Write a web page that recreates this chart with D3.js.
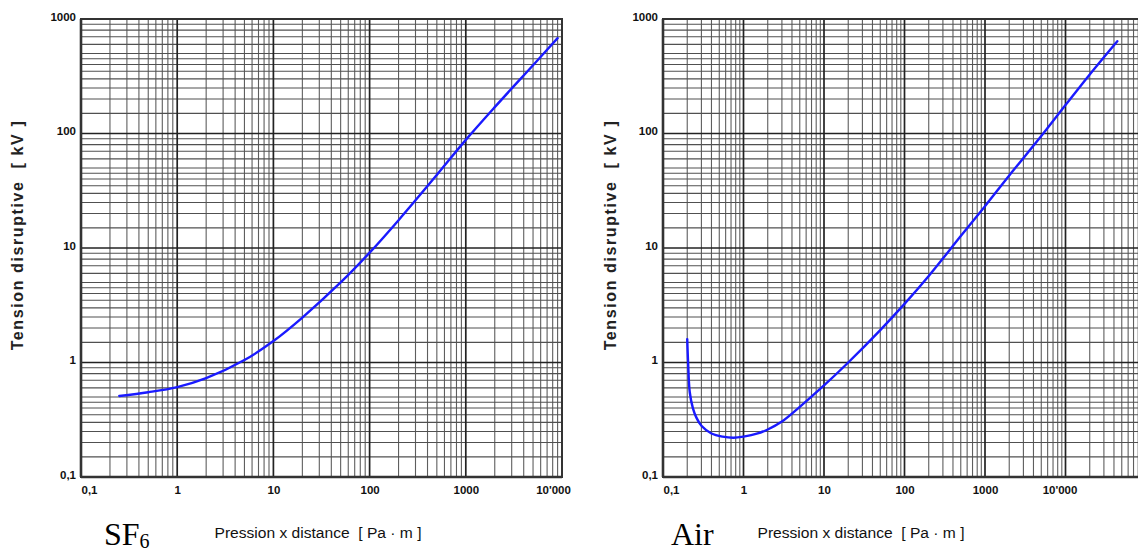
<!DOCTYPE html>
<html>
<head>
<meta charset="utf-8">
<script src="https://cdn.jsdelivr.net/npm/d3@7/dist/d3.min.js"></script>
<style>
  html, body { margin: 0; padding: 0; background: #fff; }
  svg { display: block; }
  text { white-space: pre; }
</style>
</head>
<body>
<svg id="chart" width="1138" height="551"></svg>
<script>
// ---------- data ----------
const xTickValues = [0.1, 1, 10, 100, 1000, 10000];
const xTickLabels = ["0,1", "1", "10", "100", "1000", "10'000"];
const yTickValues = [0.1, 1, 10, 100, 1000];
const yTickLabels = ["0,1", "1", "10", "100", "1000"];
const yMinorFactors = [1.5, 2, 2.5, 3, 3.5, 4, 4.5, 5, 6, 7, 8, 9];
const xMinorFactors = [2, 3, 4, 5, 6, 7, 8, 9];

// SF6 breakdown voltage [kV] vs pressure x distance [Pa·m]
const sf6X = [0.25, 0.5, 1, 2, 5, 10, 20, 50, 100, 200, 500, 1000, 2000, 5000, 9000];
const sf6Y = [0.51, 0.55, 0.61, 0.73, 1.05, 1.54, 2.47, 5.0, 9.1, 17.5, 43.5, 88, 170, 395, 680];

// Air breakdown voltage [kV] vs pressure x distance [Pa·m]
const airX = [0.2, 0.205, 0.215, 0.235, 0.26, 0.3, 0.4, 0.55, 0.75, 1, 1.5, 2, 3, 5, 10, 20, 50, 100, 200, 500, 1000, 2000, 5000, 10000, 20000, 44000];
const airY = [1.6, 1.0, 0.55, 0.4, 0.33, 0.28, 0.24, 0.225, 0.22, 0.225, 0.24, 0.26, 0.305, 0.41, 0.63, 1.0, 1.92, 3.25, 5.7, 12.7, 23.2, 43, 95, 177, 328, 640];

const yTitle = "Tension disruptive  [ kV ]";
const xTitle = "Pression x distance  [ Pa \u00B7 m ]";

// ---------- drawing ----------
const svg = d3.select("#chart");

function drawPanel(cfg) {
  const x = d3.scaleLog().domain(cfg.xDomain).range(cfg.xRange);
  const y = d3.scaleLog().domain([0.1, 1000]).range([477, 19]);
  const g = svg.append("g");

  const [x0, x1] = cfg.xRange;
  const yTop = 19, yBot = 477;

  const xMinor = [], xMajor = [];
  for (let e = Math.log10(cfg.xDomain[0]); e < Math.log10(cfg.xDomain[1]); e++) {
    const base = Math.pow(10, e);
    xMajor.push(base);
    xMinorFactors.forEach(f => xMinor.push(base * f));
  }
  xMajor.push(cfg.xDomain[1]);
  const yMinor = [], yMajor = [];
  for (let e = -1; e < 3; e++) {
    const base = Math.pow(10, e);
    yMajor.push(base);
    yMinorFactors.forEach(f => yMinor.push(base * f));
  }
  yMajor.push(1000);

  g.append("g").selectAll("line").data(xMinor).join("line")
    .attr("x1", d => x(d)).attr("x2", d => x(d))
    .attr("y1", yTop).attr("y2", yBot)
    .attr("stroke", "#5e5e5e").attr("stroke-width", 1.1);
  g.append("g").selectAll("line").data(yMinor).join("line")
    .attr("y1", d => y(d)).attr("y2", d => y(d))
    .attr("x1", x0).attr("x2", x1)
    .attr("stroke", "#505050").attr("stroke-width", 1.1);
  g.append("g").selectAll("line").data(xMajor).join("line")
    .attr("x1", d => x(d)).attr("x2", d => x(d))
    .attr("y1", yTop).attr("y2", yBot)
    .attr("stroke", "#222").attr("stroke-width", 1.7);
  g.append("g").selectAll("line").data(yMajor).join("line")
    .attr("y1", d => y(d)).attr("y2", d => y(d))
    .attr("x1", x0).attr("x2", x1)
    .attr("stroke", "#222").attr("stroke-width", 1.7);

  // frame
  g.append("rect")
    .attr("x", x0).attr("y", yTop)
    .attr("width", x1 - x0).attr("height", yBot - yTop)
    .attr("fill", "none").attr("stroke", "#333").attr("stroke-width", 2);
  g.append("line").attr("x1", x0).attr("x2", x0).attr("y1", yTop).attr("y2", yBot)
    .attr("stroke", "#333").attr("stroke-width", 2.6);
  g.append("line").attr("x1", x0).attr("x2", x1).attr("y1", yBot).attr("y2", yBot)
    .attr("stroke", "#333").attr("stroke-width", 2.6);

  // x axis labels
  const xAxis = d3.axisBottom(x).tickValues(xTickValues).tickSize(0).tickPadding(7)
    .tickFormat((d, i) => xTickLabels[i]);
  const xa = g.append("g").attr("transform", `translate(0,${yBot + 2})`).call(xAxis);
  xa.select(".domain").remove();
  xa.selectAll("text")
    .attr("font-family", "Liberation Sans, Arial, sans-serif")
    .attr("font-size", 11.5).attr("font-weight", "bold").attr("fill", "#111")
    .attr("dx", (d, i) => i === 0 ? 8 : (i === xTickValues.length - 1 ? cfg.lastDx : 0));

  // y axis labels
  const yAxis = d3.axisLeft(y).tickValues(yTickValues).tickSize(0).tickPadding(5)
    .tickFormat((d, i) => yTickLabels[i]);
  const ya = g.append("g").attr("transform", `translate(${x0},0)`).call(yAxis);
  ya.select(".domain").remove();
  ya.selectAll("text")
    .attr("font-family", "Liberation Sans, Arial, sans-serif")
    .attr("font-size", 11.5).attr("font-weight", "bold").attr("fill", "#111")
    .attr("dy", "0.1em");

  // curve
  const pts = cfg.xs.map((v, i) => [v, cfg.ys[i]]);
  const line = d3.line().x(d => x(d[0])).y(d => y(d[1])).curve(d3.curveCatmullRom.alpha(0.5));
  g.append("path").datum(pts).attr("d", line)
    .attr("fill", "none").attr("stroke", "#1a1aff").attr("stroke-width", 2.4)
    .attr("stroke-linecap", "round");

  // axis titles
  g.append("text")
    .attr("transform", `translate(${cfg.yTitleX},235) rotate(-90)`)
    .attr("text-anchor", "middle")
    .attr("font-family", "Liberation Sans, Arial, sans-serif")
    .attr("font-size", 16).attr("font-weight", "bold")
    .attr("letter-spacing", 1.6)
    .attr("fill", "#222")
    .text(yTitle);
  g.append("text")
    .attr("x", cfg.xTitleX).attr("y", 538)
    .attr("text-anchor", "middle")
    .attr("font-family", "Liberation Sans, Arial, sans-serif")
    .attr("font-size", 15.5).attr("fill", "#111")
    .attr("textLength", 207).attr("lengthAdjust", "spacingAndGlyphs")
    .text(xTitle);

  // gas label
  const lab = g.append("text")
    .attr("x", cfg.gasX).attr("y", 545)
    .attr("font-family", "Liberation Serif, Times New Roman, serif")
    .attr("font-size", 32).attr("fill", "#000");
  lab.append("tspan").text(cfg.gas);
  if (cfg.sub) {
    lab.append("tspan").attr("font-size", 20).attr("dy", 3).text(cfg.sub);
  }
}

drawPanel({
  xDomain: [0.1, 10000], xRange: [81, 562],
  xs: sf6X, ys: sf6Y, lastDx: -9,
  yTitleX: 23, xTitleX: 318, gasX: 104, gas: "SF", sub: "6"
});
drawPanel({
  xDomain: [0.1, 100000], xRange: [663, 1146],
  xs: airX, ys: airY, lastDx: -6,
  yTitleX: 616, xTitleX: 861, gasX: 671, gas: "Air", sub: null
});
</script>
</body>
</html>
